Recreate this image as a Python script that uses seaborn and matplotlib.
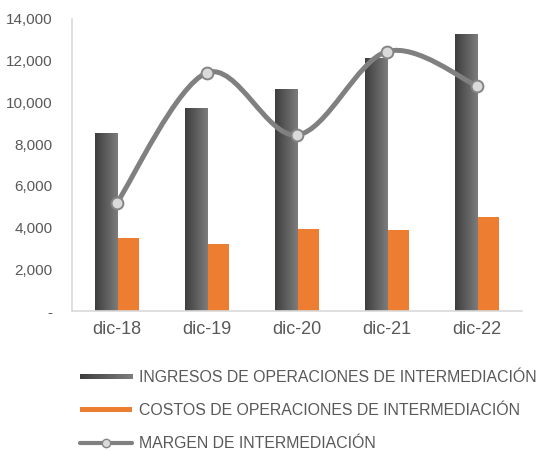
import numpy as np
import pandas as pd
import matplotlib
matplotlib.use("Agg")
import matplotlib.pyplot as plt
import seaborn as sns
from matplotlib.path import Path
from matplotlib.patches import PathPatch, Rectangle
from matplotlib.lines import Line2D
from matplotlib.colors import LinearSegmentedColormap
from matplotlib.legend_handler import HandlerPatch

# Data
periods = ["dic-18", "dic-19", "dic-20", "dic-21", "dic-22"]
ingresos = [8500, 9700, 10600, 12100, 13250]
costos = [3500, 3200, 3930, 3880, 4520]
margen = [5180, 11420, 8440, 12440, 10790]

lbl_ing = "INGRESOS DE OPERACIONES DE INTERMEDIACIÓN"
lbl_cos = "COSTOS DE OPERACIONES DE INTERMEDIACIÓN"
lbl_mar = "MARGEN DE INTERMEDIACIÓN"

text_col = "#595959"
orange = "#ED7D31"
gray_cmap = LinearSegmentedColormap.from_list("bar_gray", ["#3e3e3e", "#7c7c7c"])

sns.set_theme(style="white")
plt.rcParams["font.family"] = ["Liberation Sans", "DejaVu Sans"]

df = pd.DataFrame({
    "periodo": periods * 2,
    "serie": [lbl_ing] * len(periods) + [lbl_cos] * len(periods),
    "valor": ingresos + costos,
})

fig = plt.figure(figsize=(5.48, 4.51), dpi=100)
ax = fig.add_axes([0.131, 0.310, 0.822, 0.648])

sns.barplot(data=df, x="periodo", y="valor", hue="serie", order=periods,
            hue_order=[lbl_ing, lbl_cos], palette=["#5a5a5a", orange],
            width=0.49, errorbar=None, legend=False, ax=ax, saturation=1)

# gradient fill for the gray bars
grad = np.linspace(0, 1, 64).reshape(1, -1)
for p in ax.patches:
    if p.get_height() > 0 and np.allclose(p.get_facecolor()[:3], matplotlib.colors.to_rgb("#5a5a5a")):
        x0, w, h = p.get_x(), p.get_width(), p.get_height()
        ax.imshow(grad, cmap=gray_cmap, extent=[x0, x0 + w, 0, h], aspect="auto", zorder=p.get_zorder() + 0.1)
        p.set_facecolor("none")
    p.set_edgecolor("none")
ax.set_xlim(-0.5, len(periods) - 0.5)
ax.set_ylim(0, 14000)

# smoothed line (bezier, like the spreadsheet smoothing)
xs = np.arange(len(periods), dtype=float)
ys = np.array(margen, dtype=float)
pts = np.column_stack([xs, ys])
verts = [pts[0]]
codes = [Path.MOVETO]
for i in range(len(pts) - 1):
    p_prev = pts[i - 1] if i > 0 else pts[i]
    p_next2 = pts[i + 2] if i + 2 < len(pts) else pts[i + 1]
    c1 = pts[i] + (pts[i + 1] - p_prev) / 6
    c2 = pts[i + 1] - (p_next2 - pts[i]) / 6
    verts += [c1, c2, pts[i + 1]]
    codes += [Path.CURVE4] * 3
ax.add_patch(PathPatch(Path(verts, codes), facecolor="none", edgecolor="#808080",
                       lw=3.6, zorder=5, capstyle="round"))
ax.plot(xs, ys, linestyle="none", marker="o", markersize=8.5, markerfacecolor="#dadada",
        markeredgecolor="#858585", markeredgewidth=1.4, zorder=6)

# axes styling
ax.set_xlabel("")
ax.set_ylabel("")
ax.set_yticks(np.arange(0, 14001, 2000))
ax.set_yticklabels(["-" if v == 0 else f"{v:,.0f}" for v in np.arange(0, 14001, 2000)])
ax.tick_params(axis="both", length=0, labelcolor=text_col)
ax.tick_params(axis="y", labelsize=11, pad=14)
ax.tick_params(axis="x", labelsize=13, pad=7)
for s in ["top", "right"]:
    ax.spines[s].set_visible(False)
for s in ["left", "bottom"]:
    ax.spines[s].set_color("#d9d9d9")
    ax.spines[s].set_linewidth(1.2)
ax.grid(False)


class GradientHandler(HandlerPatch):
    def create_artists(self, legend, orig_handle, xdescent, ydescent, width, height, fontsize, trans):
        n = 24
        hh = height * 0.5
        y0 = -ydescent + (height - hh) / 2
        arts = []
        for k in range(n):
            r = Rectangle((-xdescent + width * k / n, y0), width / n + 0.3, hh,
                          facecolor=gray_cmap(k / (n - 1)), edgecolor="none", transform=trans)
            arts.append(r)
        return arts


class ThinPatch(HandlerPatch):
    def create_artists(self, legend, orig_handle, xdescent, ydescent, width, height, fontsize, trans):
        hh = height * 0.5
        r = Rectangle((-xdescent, -ydescent + (height - hh) / 2), width, hh,
                      facecolor=orig_handle.get_facecolor(), edgecolor="none", transform=trans)
        return [r]


h_ing = Rectangle((0, 0), 1, 1, facecolor="#5a5a5a")
h_cos = Rectangle((0, 0), 1, 1, facecolor=orange)
h_mar = Line2D([], [], color="#808080", lw=3.0, marker="o", markersize=6,
               markerfacecolor="#dadada", markeredgecolor="#858585")

leg = fig.legend([h_ing, h_cos, h_mar], [lbl_ing, lbl_cos, lbl_mar],
                 loc="upper left", bbox_to_anchor=(80 / 548, 1 - 370 / 451),
                 frameon=False, fontsize=11.4, handlelength=3.3, handletextpad=0.4,
                 labelspacing=1.15, borderpad=0, borderaxespad=0,
                 handler_map={h_ing: GradientHandler(), h_cos: ThinPatch()})
for t in leg.get_texts():
    t.set_color(text_col)

fig.savefig("out.png", dpi=100)
